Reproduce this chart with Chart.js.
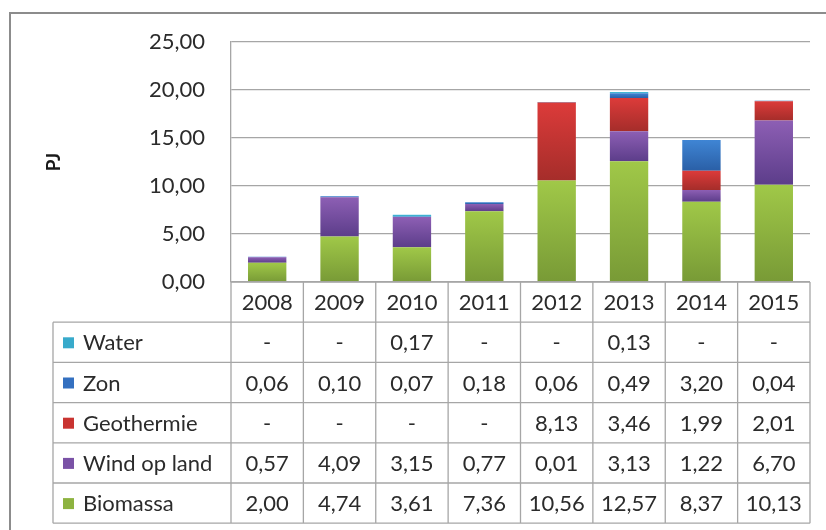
<!DOCTYPE html>
<html>
<head>
<meta charset="utf-8">
<style type="text/css">
  body { margin: 0; background: #fff; }
  .chart-container { width: 826px; height: 530px; }
</style>
</head>
<body>
<script src="https://cdn.jsdelivr.net/npm/chart.js@4.4.0/dist/chart.umd.min.js"></script>
<div class="chart-container"><canvas id="myChart"></canvas></div>
<script>
  /* datas (PJ) - null means '-' in the table */
  const years = ['2008', '2009', '2010', '2011', '2012', '2013', '2014', '2015'];
  const biomassa   = [2.00, 4.74, 3.61, 7.36, 10.56, 12.57, 8.37, 10.13];
  const windOpLand = [0.57, 4.09, 3.15, 0.77, 0.01, 3.13, 1.22, 6.70];
  const geothermie = [null, null, null, null, 8.13, 3.46, 1.99, 2.01];
  const zon        = [0.06, 0.10, 0.07, 0.18, 0.06, 0.49, 3.20, 0.04];
  const water      = [null, null, 0.17, null, null, 0.13, null, null];
  const yTicks = [0, 5, 10, 15, 20, 25];

  const FONT = 'Lato, "Open Sans", sans-serif';
  const LINE = '#a6a6a6';
  const TEXT = '#2b2b2b';

  const fmt = v => (v === null || v === undefined) ? '-' : v.toFixed(2).replace('.', ',');

  // vertical gradient per bar segment, lighter at the top
  function segGradient(top, bottom) {
    return function(c) {
      const chart = c.chart;
      const y = chart.scales.y;
      if (!y || c.type !== 'data') return bottom;
      const i = c.dataIndex, d = c.datasetIndex;
      let base = 0;
      for (let k = 0; k < d; k++) base += chart.data.datasets[k].data[i] || 0;
      const v = chart.data.datasets[d].data[i] || 0;
      const y0 = y.getPixelForValue(base + v), y1 = y.getPixelForValue(base);
      if (!isFinite(y0) || !isFinite(y1) || y1 - y0 < 0.5) return bottom;
      const g = chart.ctx.createLinearGradient(0, y0, 0, y1);
      g.addColorStop(0, top);
      g.addColorStop(1, bottom);
      return g;
    };
  }

  const series = [
    { label: 'Biomassa',     data: biomassa,   top: '#a0c848', bottom: '#789a36', key: '#8db340' },
    { label: 'Wind op land', data: windOpLand, top: '#8d5fb4', bottom: '#5c3d8a', key: '#7a52a6' },
    { label: 'Geothermie',   data: geothermie, top: '#dc3b3a', bottom: '#a52d2a', key: '#c93431' },
    { label: 'Zon',          data: zon,        top: '#3f85d4', bottom: '#2a5fa6', key: '#3470c0' },
    { label: 'Water',        data: water,      top: '#4cc0de', bottom: '#2c9dc0', key: '#38aacb' }
  ];

  const tablePlugin = {
    id: 'dataTable',
    beforeDraw(chart) {
      const ctx = chart.ctx;
      ctx.save();
      ctx.strokeStyle = '#8c8c8c';
      ctx.lineWidth = 2;
      ctx.beginPath();
      ctx.moveTo(10, chart.height);
      ctx.lineTo(10, 13);
      ctx.lineTo(chart.width, 13);
      ctx.stroke();
      ctx.restore();
    },
    afterDraw(chart) {
      const ctx = chart.ctx, x = chart.scales.x, area = chart.chartArea;
      const colW = x.getPixelForValue(1) - x.getPixelForValue(0);
      const left = area.left, right = area.right, top = area.bottom;
      const labelLeft = 53, rowH = 40.2;
      const rows = series.slice().reverse();
      const bottom = top + rowH * (rows.length + 1);

      ctx.save();
      ctx.strokeStyle = LINE;
      ctx.lineWidth = 1.3;
      ctx.beginPath();
      // horizontal lines
      ctx.moveTo(left, top); ctx.lineTo(right, top);
      for (let r = 1; r <= rows.length + 1; r++) {
        const yy = top + rowH * r;
        ctx.moveTo(labelLeft, yy); ctx.lineTo(right, yy);
      }
      // vertical lines
      for (let c = 0; c <= years.length; c++) {
        const xx = left + colW * c;
        ctx.moveTo(xx, top); ctx.lineTo(xx, bottom);
      }
      ctx.moveTo(labelLeft, top + rowH); ctx.lineTo(labelLeft, bottom);
      ctx.stroke();

      ctx.fillStyle = TEXT;
      ctx.font = '22px ' + FONT;
      ctx.textBaseline = 'middle';
      ctx.textAlign = 'center';
      years.forEach((yr, i) => ctx.fillText(yr, x.getPixelForValue(i), top + rowH / 2 + 1));

      rows.forEach((s, r) => {
        const cy = top + rowH * (r + 1) + rowH / 2 + 1;
        ctx.fillStyle = s.key;
        ctx.fillRect(63, cy - 6, 11, 11);
        ctx.fillStyle = TEXT;
        ctx.textAlign = 'left';
        ctx.fillText(s.label, 83, cy);
        ctx.textAlign = 'center';
        s.data.forEach((v, i) => ctx.fillText(fmt(v), x.getPixelForValue(i), cy));
      });
      ctx.restore();
    }
  };

  const myChart = new Chart('myChart', {
    type: 'bar',
    data: {
      labels: years,
      datasets: series.map(s => ({
        label: s.label,
        data: s.data,
        backgroundColor: segGradient(s.top, s.bottom),
        borderWidth: 0,
        categoryPercentage: 1,
        barPercentage: 0.53
      }))
    },
    options: {
      responsive: true,
      maintainAspectRatio: false,
      animation: false,
      layout: { padding: { left: 0, top: 42, right: 16, bottom: 248 } },
      plugins: { legend: { display: false }, tooltip: { enabled: false } },
      scales: {
        x: { stacked: true, display: false },
        y: {
          stacked: true,
          min: yTicks[0],
          max: yTicks[yTicks.length - 1],
          afterBuildTicks: s => { s.ticks = yTicks.map(v => ({ value: v })); },
          afterFit: s => { s.width = 231; },
          ticks: {
            padding: 26,
            color: TEXT,
            font: { family: FONT, size: 22 },
            callback: v => fmt(v)
          },
          grid: { color: LINE, lineWidth: 1.3, drawTicks: false, tickLength: 0 },
          border: { display: true, color: LINE, width: 1.3 },
          title: {
            display: true,
            text: 'PJ',
            color: '#1a1a1a',
            font: { family: FONT, size: 19, weight: 'bold' },
            padding: { top: 42, bottom: 0 }
          }
        }
      }
    },
    plugins: [tablePlugin]
  });
</script>
</body>
</html>
